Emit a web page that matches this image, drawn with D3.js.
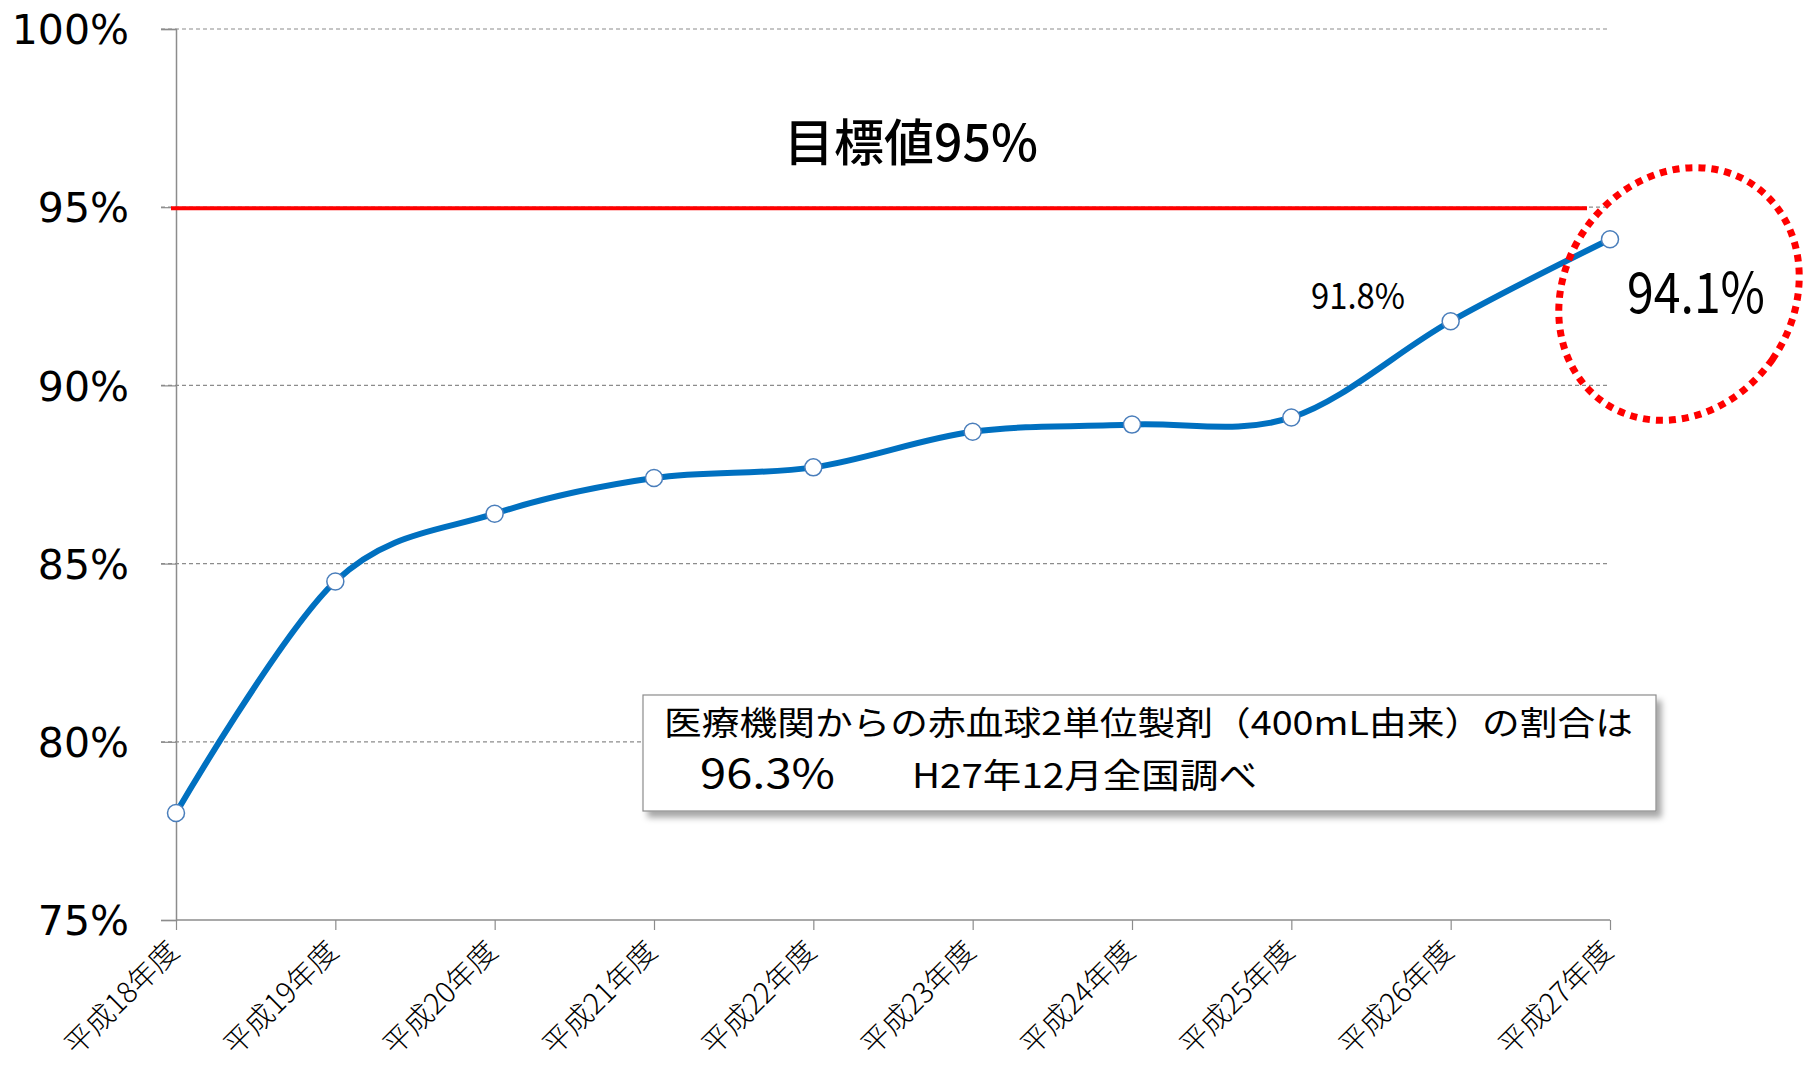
<!DOCTYPE html>
<html>
<head>
<meta charset="utf-8">
<script src="https://cdn.jsdelivr.net/npm/d3@7"></script>
<style>
  body { margin: 0; background: #fff; }
  svg { display: block; }
</style>
</head>
<body>
<svg id="viz" width="1803" height="1065"></svg>
<script>
const years = ["平成18年度", "平成19年度", "平成20年度", "平成21年度", "平成22年度",
    "平成23年度", "平成24年度", "平成25年度", "平成26年度", "平成27年度"];
const rates = [78.0, 84.5, 86.4, 87.4, 87.7, 88.7, 88.9, 89.1, 91.8, 94.1];
const yTicks = [75, 80, 85, 90, 95, 100];
const target = 95;
const titleText = "目標値95%";
const boxLine1 = "医療機関からの赤血球2単位製剤（400mL由来）の割合は";
const boxValue = "96.3%";
const boxNote = "H27年12月全国調べ";

const svg = d3.select("#viz");
const jp = "'Noto Sans CJK JP', sans-serif";

const x = d3.scalePoint()
    .domain(years)
    .range([176, 1610]);
const y = d3.scaleLinear()
    .domain([75, 100])
    .range([920, 29]);

const defs = svg.append("defs");
defs.append("filter")
    .attr("id", "shadow")
    .attr("x", "-5%").attr("y", "-20%")
    .attr("width", "115%").attr("height", "150%")
    .append("feDropShadow")
    .attr("dx", 5).attr("dy", 6)
    .attr("stdDeviation", 3)
    .attr("flood-color", "#000")
    .attr("flood-opacity", 0.35);

// gridlines
svg.append("g")
    .selectAll("line")
    .data(yTicks.filter((d) => d > 75))
    .enter()
    .append("line")
    .attr("x1", 161)
    .attr("x2", 1610)
    .attr("y1", (d) => y(d))
    .attr("y2", (d) => y(d))
    .attr("stroke", "#8c8c8c")
    .attr("stroke-width", 1.2)
    .attr("stroke-dasharray", "4,3");

// y axis
const yAxis = svg.append("g")
    .attr("transform", `translate(${x(years[0])},0)`)
    .call(d3.axisLeft(y).tickValues(yTicks).tickSize(15).tickPadding(32)
        .tickFormat((d) => d + "%"));
yAxis.select(".domain").attr("stroke", "#8c8c8c").attr("stroke-width", 1.5);
yAxis.selectAll(".tick line").attr("stroke", "#8c8c8c").attr("stroke-width", 1.2);
yAxis.selectAll(".tick text")
    .attr("font-family", "'DejaVu Sans', sans-serif")
    .attr("font-size", 41)
    .attr("fill", "#000")
    .attr("dy", "0.36em");

// x axis
const xAxis = svg.append("g")
    .attr("transform", `translate(0,${y(75)})`)
    .call(d3.axisBottom(x).tickSize(10).tickSizeOuter(0));
xAxis.select(".domain").attr("stroke", "#8c8c8c").attr("stroke-width", 1.5)
    .attr("d", `M${x(years[0])},0H${x(years[years.length - 1])}`);
xAxis.selectAll(".tick line").attr("stroke", "#8c8c8c").attr("stroke-width", 1.2);
xAxis.selectAll(".tick text")
    .attr("font-family", jp)
    .attr("font-size", 29)
    .attr("font-weight", 300)
    .attr("fill", "#000")
    .attr("text-anchor", "end")
    .attr("transform", "translate(-2,27) rotate(-45)")
    .attr("x", 0)
    .attr("y", 0)
    .attr("dy", "0.3em");

// target line
svg.append("line")
    .attr("x1", x(years[0]) - 5)
    .attr("x2", 1587)
    .attr("y1", y(target) + 1)
    .attr("y2", y(target) + 1)
    .attr("stroke", "#ff0000")
    .attr("stroke-width", 4);

svg.append("text")
    .attr("x", 911)
    .attr("y", 161)
    .attr("text-anchor", "middle")
    .attr("font-family", jp)
    .attr("font-size", 50)
    .attr("font-weight", 500)
    .text(titleText);

// series
const line = d3.line()
    .x((d, i) => x(years[i]))
    .y((d) => y(d))
    .curve(d3.curveCardinal.tension(0));

svg.append("path")
    .datum(rates)
    .attr("d", line)
    .attr("fill", "none")
    .attr("stroke", "#0070c0")
    .attr("stroke-width", 6);

svg.append("g")
    .selectAll("circle")
    .data(rates)
    .enter()
    .append("circle")
    .attr("cx", (d, i) => x(years[i]))
    .attr("cy", (d) => y(d))
    .attr("r", 8.5)
    .attr("fill", "#fff")
    .attr("stroke", "#4a7ebb")
    .attr("stroke-width", 1.5);

// value labels
svg.append("text")
    .attr("x", 1311)
    .attr("y", 309)
    .attr("font-family", jp)
    .attr("font-size", 36)
    .attr("textLength", 94)
    .attr("lengthAdjust", "spacingAndGlyphs")
    .text(d3.format(".1f")(rates[8]) + "%");

svg.append("text")
    .attr("x", 1627)
    .attr("y", 313)
    .attr("font-family", jp)
    .attr("font-size", 56)
    .attr("textLength", 138)
    .attr("lengthAdjust", "spacingAndGlyphs")
    .text(d3.format(".1f")(rates[9]) + "%");

// dotted highlight
svg.append("ellipse")
    .attr("cx", 1679)
    .attr("cy", 294)
    .attr("rx", 114)
    .attr("ry", 132)
    .attr("transform", "rotate(35,1679,294)")
    .attr("fill", "none")
    .attr("stroke", "#ff0000")
    .attr("stroke-width", 7)
    .attr("stroke-dasharray", "7,6");

// note box
const box = svg.append("g");
box.append("rect")
    .attr("x", 643)
    .attr("y", 695)
    .attr("width", 1013)
    .attr("height", 116)
    .attr("fill", "#fff")
    .attr("stroke", "#8c8c8c")
    .attr("stroke-width", 1.2)
    .attr("filter", "url(#shadow)");
box.append("text")
    .attr("x", 664)
    .attr("y", 735)
    .attr("font-family", jp)
    .attr("font-size", 33)
    .attr("textLength", 969)
    .attr("lengthAdjust", "spacingAndGlyphs")
    .text(boxLine1);
box.append("text")
    .attr("x", 700)
    .attr("y", 788)
    .attr("font-family", jp)
    .attr("font-size", 40)
    .attr("textLength", 135)
    .attr("lengthAdjust", "spacingAndGlyphs")
    .text(boxValue);
box.append("text")
    .attr("x", 912)
    .attr("y", 788)
    .attr("font-family", jp)
    .attr("font-size", 34)
    .attr("textLength", 345)
    .attr("lengthAdjust", "spacingAndGlyphs")
    .text(boxNote);
</script>
</body>
</html>
